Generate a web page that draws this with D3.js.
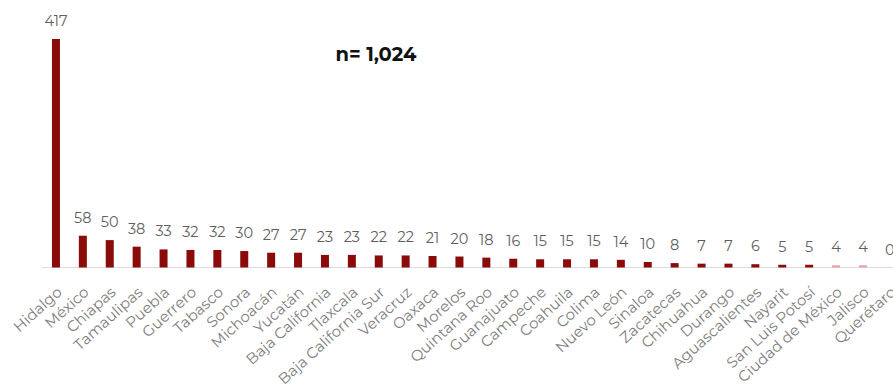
<!DOCTYPE html>
<html><head><meta charset="utf-8">
<script src="https://cdn.jsdelivr.net/npm/d3@7"></script>
<style>html,body{margin:0;padding:0;background:#fff;overflow:hidden}</style>
</head><body>
<svg id="c" width="893" height="387"></svg>
<script>
const categories = ["Hidalgo","México","Chiapas","Tamaulipas","Puebla","Guerrero","Tabasco","Sonora","Michoacán","Yucatán","Baja California","Tlaxcala","Baja California Sur","Veracruz","Oaxaca","Morelos","Quintana Roo","Guanajuato","Campeche","Coahuila","Colima","Nuevo León","Sinaloa","Zacatecas","Chihuahua","Durango","Aguascalientes","Nayarit","San Luis Potosí","Ciudad de México","Jalisco","Querétaro"];
const values = [417,58,50,38,33,32,32,30,27,27,23,23,22,22,21,20,18,16,15,15,15,14,10,8,7,7,6,5,5,4,4,0];
const highlight = [false,false,false,false,false,false,false,false,false,false,false,false,false,false,false,false,false,false,false,false,false,false,false,false,false,false,false,false,false,true,true,false];
const title = "n= 1,024";

const svg = d3.select("#c");
const font = "Montserrat, 'Open Sans', sans-serif";
const x = d3.scaleBand().domain(categories).range([42.5, 42.5 + 32*26.9]);
const y = d3.scaleLinear().domain([0, 417]).range([267.5, 39]);
const bw = 8;

svg.append("line").attr("x1", 42).attr("x2", 893).attr("y1", y(0)).attr("y2", y(0))
  .attr("stroke", "#dcdcdc").attr("stroke-width", 1.2);

const data = categories.map((c,i)=>({c, v: values[i], h: highlight[i]}));

svg.selectAll("rect.bar").data(data).enter().append("rect")
  .attr("class","bar")
  .attr("x", d => x(d.c) + x.bandwidth()/2 - bw/2)
  .attr("y", d => y(d.v))
  .attr("width", bw)
  .attr("height", d => y(0) - y(d.v))
  .attr("fill", d => d.h ? "#e8a3a3" : "#8b0a0a");

svg.selectAll("text.val").data(data).enter().append("text")
  .attr("class","val")
  .attr("x", d => x(d.c) + x.bandwidth()/2)
  .attr("y", d => y(d.v) - 13)
  .attr("text-anchor","middle")
  .attr("font-family", font).attr("font-size", 14.5)
  .attr("fill", "#5e5e5e")
  .text(d => d.v);

svg.selectAll("text.cat").data(data).enter().append("text")
  .attr("class","cat")
  .attr("transform", d => `translate(${x(d.c) + x.bandwidth()/2 + 7},${y(0)+26}) rotate(-42)`)
  .attr("text-anchor","end")
  .attr("font-family", font).attr("font-size", 15)
  .attr("fill", "#7d7d7d")
  .text(d => d.c);

svg.append("text").attr("x", 376).attr("y", 61).attr("text-anchor","middle")
  .attr("font-family", font).attr("font-size", 19.5).attr("font-weight","bold")
  .attr("fill","#111").text(title);
</script>
</body></html>
